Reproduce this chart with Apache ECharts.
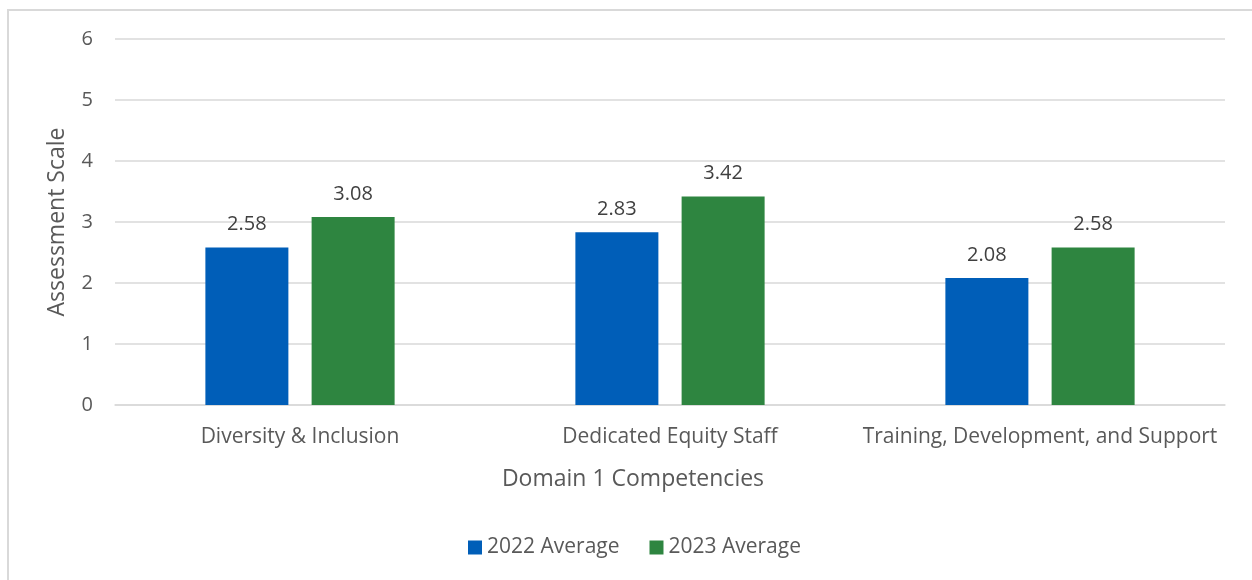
<!DOCTYPE html>
<html>
<head>
<meta charset="utf-8">
<script src="https://cdn.jsdelivr.net/npm/echarts@6/dist/echarts.min.js"></script>
<style>
  html, body { margin: 0; padding: 0; background: #fff; overflow: hidden; }
  #frame { position: absolute; left: 7px; top: 9px; width: 1260px; height: 600px; border: 2px solid #d9d9d9; box-sizing: border-box; }
  #chart { position: absolute; left: 0; top: 0; width: 1252px; height: 580px; }
</style>
</head>
<body>
<div id="frame"></div>
<div id="chart"></div>
<script>
  const categories = ['Diversity & Inclusion', 'Dedicated Equity Staff', 'Training, Development, and Support'];
  const avg2022 = [2.58, 2.83, 2.08];
  const avg2023 = [3.08, 3.42, 2.58];
  const seriesNames = ['2022 Average', '2023 Average'];

  const font = '"Open Sans", sans-serif';
  const chart = echarts.init(document.getElementById('chart'));
  chart.setOption({
    animation: false,
    textStyle: { fontFamily: font },
    legend: {
      data: seriesNames,
      bottom: 17,
      left: 463,
      itemWidth: 14,
      itemHeight: 14,
      itemGap: 30,
      icon: 'rect',
      textStyle: { fontSize: 21, color: '#595959', fontFamily: font }
    },
    grid: { left: 115, right: 27, top: 39, bottom: 175 },
    xAxis: {
      type: 'category',
      data: categories,
      name: 'Domain 1 Competencies',
      nameLocation: 'middle',
      nameGap: 63,
      nameTextStyle: { fontSize: 23, color: '#595959', padding: [0, 74, 0, 0] },
      axisLine: { lineStyle: { color: '#d9d9d9', width: 1.5 } },
      axisTick: { show: false },
      axisLabel: { interval: 0, fontSize: 21, color: '#595959', margin: 22 }
    },
    yAxis: {
      type: 'value',
      min: 0,
      max: 6,
      interval: 1,
      name: 'Assessment Scale',
      nameLocation: 'middle',
      nameGap: 46,
      nameTextStyle: { fontSize: 23, color: '#595959' },
      axisLine: { show: false },
      axisTick: { show: false },
      axisLabel: { fontSize: 20, color: '#595959', margin: 22 },
      splitLine: { lineStyle: { color: '#d9d9d9', width: 1.5 } }
    },
    series: [
      {
        name: seriesNames[0],
        type: 'bar',
        data: avg2022,
        barWidth: 83,
        barGap: '28%',
        itemStyle: { color: '#005EB8' },
        label: { show: true, position: 'top', distance: 13, fontSize: 20, color: '#404040', formatter: p => p.value.toFixed(2) }
      },
      {
        name: seriesNames[1],
        type: 'bar',
        data: avg2023,
        barWidth: 83,
        barGap: '28%',
        itemStyle: { color: '#2E8540' },
        label: { show: true, position: 'top', distance: 13, fontSize: 20, color: '#404040', formatter: p => p.value.toFixed(2) }
      }
    ]
  });
</script>
</body>
</html>
